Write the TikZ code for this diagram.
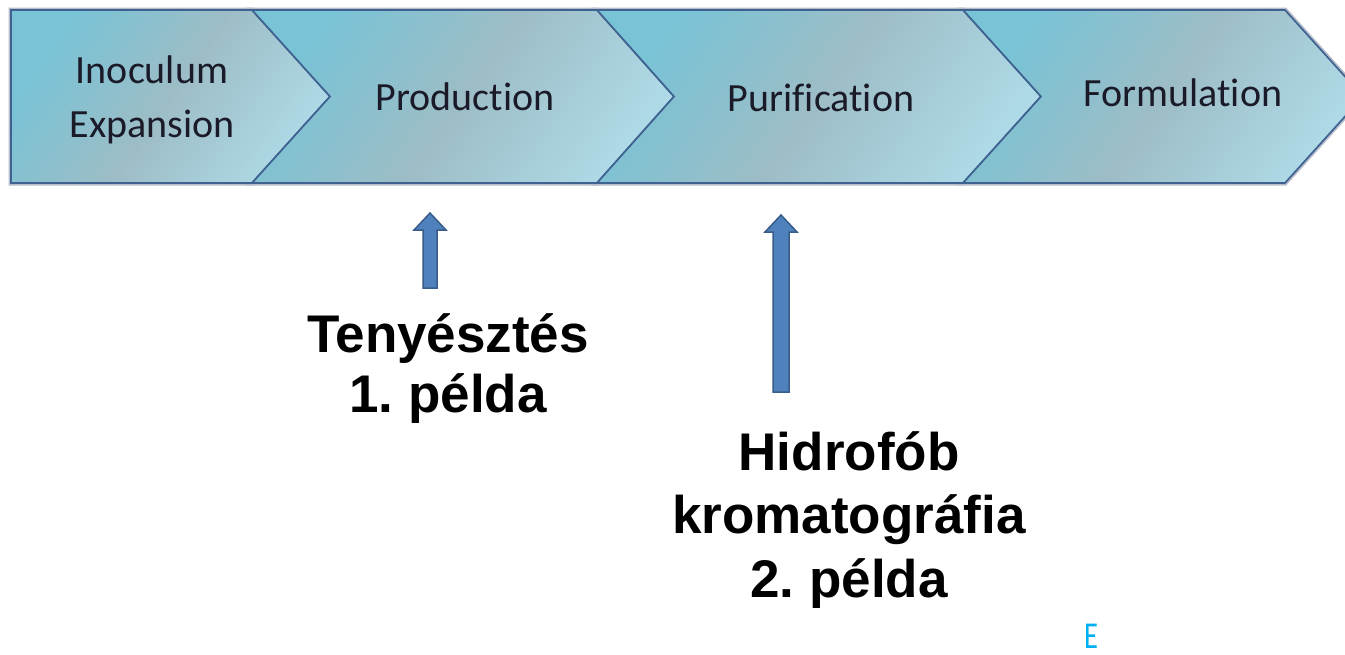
\documentclass[tikz,border=0pt]{standalone}
\usepackage{fontspec}
\setmainfont{Carlito}[Ligatures=NoCommon]
\newfontfamily\labelfont{Liberation Sans}
\usetikzlibrary{calc}

\definecolor{chevA}{HTML}{78C3D6}
\definecolor{chevB}{HTML}{9DBDC6}
\definecolor{chevC}{HTML}{AED9E6}
\definecolor{chevEdge}{HTML}{3F6290}
\definecolor{chevGlow}{HTML}{B6BCCA}
\definecolor{arrowFill}{HTML}{4F81BD}
\definecolor{arrowEdge}{HTML}{385D8A}
\definecolor{stageText}{HTML}{1A1A28}
\definecolor{markCyan}{HTML}{00B0F0}

% upward block arrow: tip, foot, head half width, shaft half width
\newcommand\liftarrow[4]{%
  \draw[blockarrow] (#1) -- ($(#1)+(#3,17)$) -- ($(#1)+(#4,17)$)
    -- ($(#2)+(#4,0)$) -- ($(#2)+(-#4,0)$) -- ($(#1)+(-#4,17)$)
    -- ($(#1)+(-#3,17)$) -- cycle;}

\begin{document}
\frenchspacing
\begin{tikzpicture}[x=1pt,y=-1pt,
  chevglow/.style={draw=chevGlow, line width=5pt, line join=miter},
  chevron/.style={draw=chevEdge, line width=1.7pt, line join=miter,
    top color=chevA, bottom color=chevC, middle color=chevB, shading angle=55},
  stage/.style={font=\fontsize{40}{54}\selectfont, text=stageText, align=center, inner sep=0pt},
  callout/.style={font=\labelfont\bfseries\fontsize{53}{60}\selectfont, text=black, align=center, inner sep=0pt},
  blockarrow/.style={fill=arrowFill, draw=arrowEdge, line width=1.5pt, line join=miter}]

\clip (0,0) rectangle (1345,654);
\fill[white] (0,0) rectangle (1345,654);

% process chevrons
\foreach \p in {
  {(11,10) -- (252,10) -- (330,96.5) -- (252,183) -- (11,183) -- cycle},
  {(252,10) -- (597,10) -- (674,96.5) -- (597,183) -- (252,183) -- (330,96.5) -- cycle},
  {(597,10) -- (963,10) -- (1041,96.5) -- (963,183) -- (597,183) -- (674,96.5) -- cycle},
  {(963,10) -- (1285,10) -- (1363,96.5) -- (1285,183) -- (963,183) -- (1041,96.5) -- cycle}}
  {\path[chevglow] \p;}
\foreach \p in {
  {(11,10) -- (252,10) -- (330,96.5) -- (252,183) -- (11,183) -- cycle},
  {(252,10) -- (597,10) -- (674,96.5) -- (597,183) -- (252,183) -- (330,96.5) -- cycle},
  {(597,10) -- (963,10) -- (1041,96.5) -- (963,183) -- (597,183) -- (674,96.5) -- cycle},
  {(963,10) -- (1285,10) -- (1363,96.5) -- (1285,183) -- (963,183) -- (1041,96.5) -- cycle}}
  {\path[chevron] \p;}

% stage names (base anchor sits on the last line)
\node[stage, anchor=base] (inoc) at (152,137) {Inoculum\\Expansion};
\node[stage, anchor=base] (prod) at (465,110) {Production};
\node[stage, anchor=base] (puri) at (821,111) {Purification};
\node[stage, anchor=base] (form) at (1183,106) {Formulation};

% callouts
\node[callout, anchor=base] (ex1) at (448,412) {Tenyésztés\\1. példa};
\node[callout, anchor=base, font=\labelfont\bfseries\fontsize{53}{63.5}\selectfont] (ex2) at (849,597) {Hidrofób\\kromatográfia\\2. példa};

% arrows pointing up to the stages
\coordinate (a1tip) at (430,213);
\coordinate (a1foot) at (430,288);
\coordinate (a2tip) at (781,215);
\coordinate (a2foot) at (781,392);
\liftarrow{a1tip}{a1foot}{16}{7}
\liftarrow{a2tip}{a2foot}{16}{8}

\node[font=\fontsize{38}{40}\selectfont, text=markCyan, anchor=base west, inner sep=0pt, xscale=0.75] (mark) at (1084,648) {E};
\end{tikzpicture}
\end{document}
